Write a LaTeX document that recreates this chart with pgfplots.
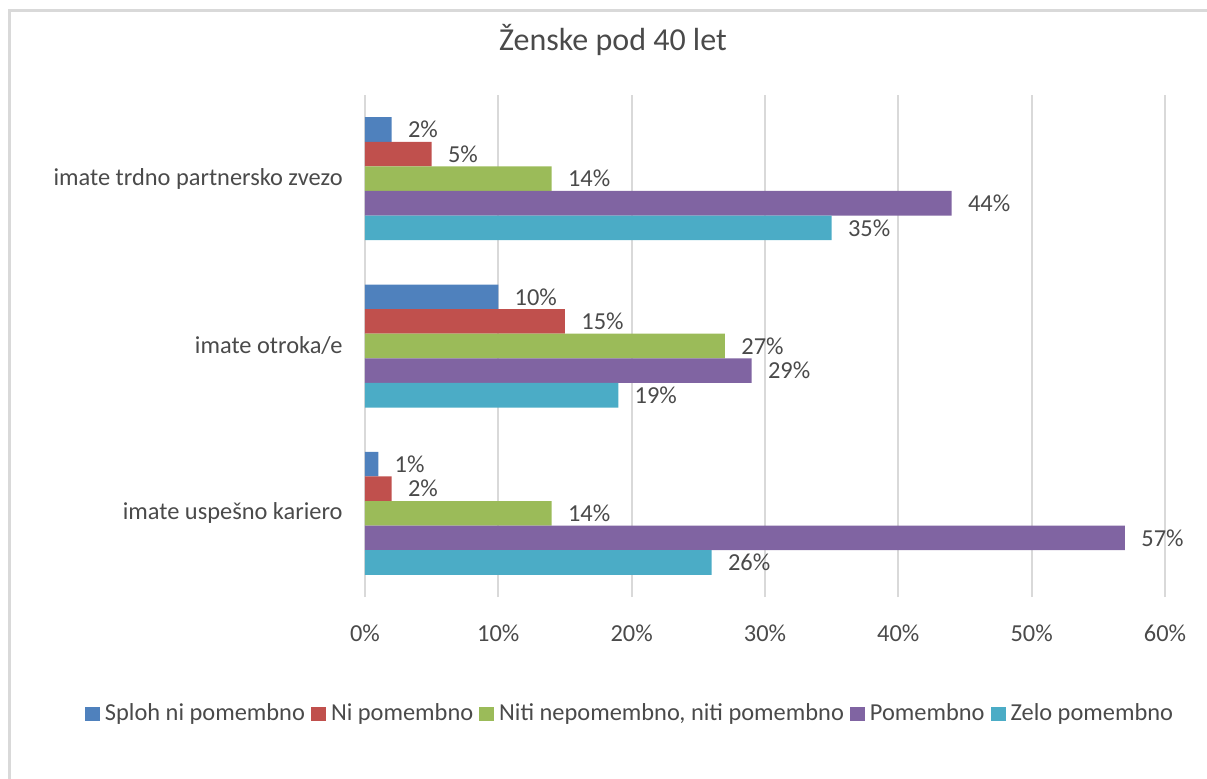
\documentclass[border=0pt]{standalone}
\usepackage{pgfplots}
\pgfplotsset{compat=1.18}
\usepackage{fontspec}
\setmainfont{Carlito}
\definecolor{cBlue}{HTML}{4F81BD}
\definecolor{cRed}{HTML}{C0504D}
\definecolor{cGreen}{HTML}{9BBB59}
\definecolor{cPurple}{HTML}{8064A2}
\definecolor{cAqua}{HTML}{4BACC6}
\definecolor{cGrid}{HTML}{D9D9D9}
\definecolor{cText}{HTML}{4A4A4A}
\begin{document}
\begin{tikzpicture}
\path[use as bounding box] (0,0) rectangle (603.5pt,-389pt);
\draw[cGrid, line width=1.5pt] (4.75pt,-400pt) -- (4.75pt,-5.25pt) -- (620pt,-5.25pt);
\begin{axis}[
  at={(182.5pt,-298.5pt)}, anchor=south west,
  scale only axis, width=400pt, height=251pt,
  xbar, bar width=12.3pt,
  xmin=0, xmax=60, ymin=-0.5, ymax=2.5,
  xtick={0,10,...,60},
  xticklabel={\pgfmathprintnumber{\tick}\%},
  ytick={0,1,2},
  yticklabels={imate uspešno kariero, imate otroka/e, imate trdno partnersko zvezo},
  /pgf/number format/assume math mode=true,
  xmajorgrids, ymajorgrids=false,
  grid style={cGrid, line width=1.1pt},
  axis line style={draw=none},
  major tick length=0pt,
  tick label style={font=\fontsize{12.2}{14}\selectfont, text=cText},
  xticklabel style={inner sep=0pt, anchor=north, yshift=-13.5pt},
  yticklabel style={inner sep=0pt, anchor=east, xshift=-11pt},
  nodes near coords={\pgfmathprintnumber{\pgfplotspointmeta}\%},
  every node near coord/.append style={font=\fontsize{12.2}{14}\selectfont, text=cText, anchor=west, inner sep=0pt, xshift=8pt},
  title={Ženske pod 40 let},
  title style={at={(0.31,1)}, anchor=center, yshift=21.5pt, font=\fontsize{16}{18}\selectfont, text=cText},
  legend columns=5,
  legend style={at={(0.3325,-0.233)}, anchor=center, draw=none, fill=none,
    font=\fontsize{12.2}{14}\selectfont, text=cText,
    /tikz/every even column/.append style={column sep=1pt},
    /tikz/every odd column/.append style={column sep=0.5pt},
    inner sep=0pt},
  legend image code/.code={\fill[#1,draw=none] (0pt,-3.5pt) rectangle (7.5pt,3.5pt);},
]
\addplot[fill=cBlue, draw=none, bar shift=24.6pt] coordinates {(1,0) (10,1) (2,2)};
\addplot[fill=cRed, draw=none, bar shift=12.3pt] coordinates {(2,0) (15,1) (5,2)};
\addplot[fill=cGreen, draw=none, bar shift=0pt] coordinates {(14,0) (27,1) (14,2)};
\addplot[fill=cPurple, draw=none, bar shift=-12.3pt] coordinates {(57,0) (29,1) (44,2)};
\addplot[fill=cAqua, draw=none, bar shift=-24.6pt] coordinates {(26,0) (19,1) (35,2)};
\legend{Sploh ni pomembno, Ni pomembno, {Niti nepomembno, niti pomembno}, Pomembno, Zelo pomembno}
\end{axis}
\end{tikzpicture}
\end{document}
